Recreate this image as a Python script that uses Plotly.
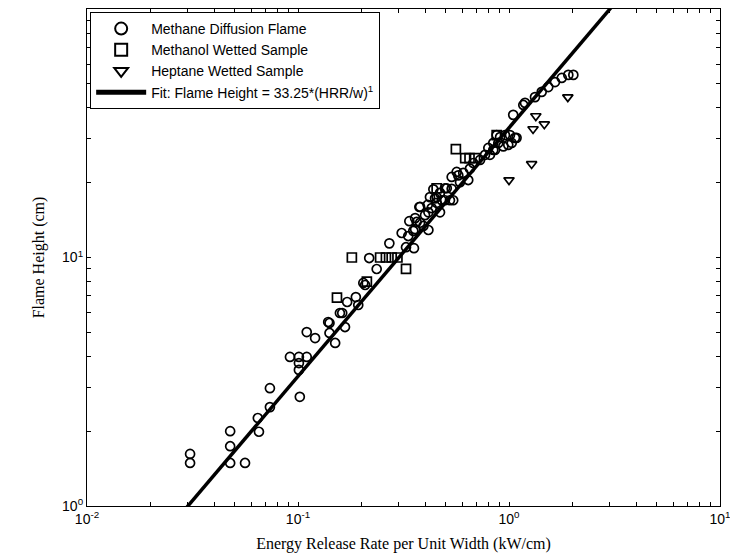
import plotly.graph_objects as go

# Methane Diffusion Flame
methane_x = [0.0308, 0.0308, 0.0477, 0.0477, 0.0477, 0.0561, 0.0645, 0.0653, 0.0736, 0.0736,
             0.102, 0.0916, 0.101, 0.110, 0.101, 0.101, 0.110, 0.1205, 0.141, 0.141,
             0.150, 0.162, 0.167, 0.171, 0.158, 0.188, 0.193, 0.208, 0.204, 0.2175,
             0.236, 0.271, 0.310, 0.325, 0.3545, 0.333, 0.352, 0.337, 0.359, 0.365,
             0.376, 0.400, 0.415, 0.379, 0.393, 0.359, 0.412, 0.422, 0.454, 0.471,
             0.497, 0.544, 0.471, 0.430, 0.415, 0.379, 0.507, 0.535, 0.565, 0.607,
             0.586, 0.641, 0.677, 0.729, 0.770, 0.8125, 0.842, 0.798, 0.858, 0.874,
             0.907, 0.957, 1.011, 1.067, 0.992, 0.940, 0.890, 0.842, 1.086, 1.030,
             1.047, 1.169, 1.191, 1.328, 1.429, 1.535, 1.652, 1.778, 1.910, 2.018,
             0.139, 0.438, 0.454, 0.525, 0.480, 0.446, 0.535, 0.497, 0.575, 0.653]
methane_y = [1.62, 1.49, 2.00, 1.74, 1.49, 1.49, 2.26, 1.99, 2.98, 2.50,
             2.75, 3.98, 3.98, 3.98, 3.76, 3.53, 5.01, 4.74, 5.45, 4.97,
             4.53, 5.98, 5.25, 6.62, 5.98, 6.93, 6.44, 7.75, 7.9, 9.95,
             8.99, 11.4, 12.55, 11.0, 10.9, 12.2, 12.8, 14.0, 14.4, 13.9,
             15.97, 14.8, 12.9, 13.8, 13.4, 13.0, 16.3, 17.5, 17.5, 18.2,
             17.0, 17.0, 15.2, 15.8, 15.2, 16.0, 19.0, 21.1, 22.1, 21.9,
             20.1, 20.5, 24.0, 24.7, 25.9, 25.9, 27.1, 27.6, 27.1, 31.1,
             30.5, 31.1, 31.1, 30.3, 28.4, 28.0, 28.9, 28.9, 30.3, 28.9,
             37.5, 41.1, 41.9, 44.2, 46.4, 48.5, 50.8, 52.8, 54.3, 54.3,
             5.5, 18.8, 16.6, 17.0, 17.0, 17.3, 18.9, 19.0, 21.4, 22.8]

# Methanol Wetted Sample
methanol_x = [0.180, 0.245, 0.261, 0.278, 0.296, 0.325, 0.153, 0.212, 0.454, 0.560,
              0.620, 0.650, 0.690, 0.874]
methanol_y = [10.0, 10.0, 10.0, 10.0, 10.0, 9.0, 6.9, 8.0, 19.0, 27.3,
              25.1, 25.1, 25.1, 31.1]

# Heptane Wetted Sample
heptane_x = [1.00, 1.28, 1.30, 1.34, 1.47, 1.90]
heptane_y = [20.5, 23.8, 32.9, 37.1, 34.4, 44.2]

# Fit: Flame Height = 33.25*(HRR/w)^1
fit_coef = 33.25
fit_exp = 1
fit_x = [0.01, 10.0]
fit_y = [fit_coef * v ** fit_exp for v in fit_x]

# Tick positions (decades labelled, 2..9 unlabelled)
x_decades = [0.01, 0.1, 1, 10]
x_decade_labels = ["10<sup>-2</sup>", "10<sup>-1</sup>", "10<sup>0</sup>", "10<sup>1</sup>"]
y_decades = [1, 10, 100]
y_decade_labels = ["10<sup>0</sup>", "10<sup>1</sup>", "10<sup>2</sup>"]
mults = [1, 2, 3, 4, 5, 6, 7, 8, 9]


def ticks_for(decades, labels):
    vals, texts = [], []
    for d, lab in zip(decades, labels):
        for m in mults:
            vals.append(d * m)
            texts.append(lab if m == 1 else "")
    return vals, texts


xtv, xtt = ticks_for(x_decades, x_decade_labels)
ytv, ytt = ticks_for(y_decades, y_decade_labels)

fig = go.Figure()
mk = dict(color="black", size=9, line=dict(color="black", width=1.7))
fig.add_trace(go.Scatter(x=methane_x, y=methane_y, mode="markers", name="Methane Diffusion Flame",
                         marker=dict(symbol="circle-open", **mk)))
fig.add_trace(go.Scatter(x=methanol_x, y=methanol_y, mode="markers", name="Methanol Wetted Sample",
                         marker=dict(symbol="square-open", **mk)))
fig.add_trace(go.Scatter(x=heptane_x, y=heptane_y, mode="markers", name="Heptane Wetted Sample",
                         marker=dict(symbol="triangle-down-open", **mk)))
fig.add_trace(go.Scatter(x=fit_x, y=fit_y, mode="lines",
                         name="Fit: Flame Height = 33.25*(HRR/w)<sup>1</sup>",
                         line=dict(color="black", width=3.5)))

axis_common = dict(
    type="log", showgrid=False, zeroline=False, showline=True, linecolor="black", linewidth=1.2,
    mirror="ticks", ticks="inside", ticklen=4, tickcolor="black", automargin=False,
    tickfont=dict(family="Liberation Sans, Arial", size=14, color="black"),
)
fig.update_xaxes(range=[-2, 1], tickmode="array", tickvals=xtv, ticktext=xtt,
                 title=dict(text="Energy Release Rate per Unit Width (kW/cm)",
                            font=dict(family="Liberation Serif, Times New Roman", size=16, color="black"),
                            standoff=11),
                 **axis_common)
fig.update_yaxes(range=[0, 2], tickmode="array", tickvals=ytv, ticktext=ytt,
                 title=dict(text="Flame Height (cm)",
                            font=dict(family="Liberation Serif, Times New Roman", size=16, color="black"),
                            standoff=13),
                 **axis_common)

fig.update_layout(
    width=730, height=550,
    margin=dict(l=79, r=18, t=1, b=52),
    paper_bgcolor="white", plot_bgcolor="white",
    font=dict(family="Liberation Sans, Arial", size=13, color="black"),
    legend=dict(x=0.005, y=0.994, xanchor="left", yanchor="top",
                bgcolor="white", bordercolor="black", borderwidth=1,
                font=dict(family="Liberation Sans, Arial", size=14, color="black"),
                tracegroupgap=0, itemsizing="constant", itemwidth=50),
    showlegend=True,
)

fig.write_html("out.html")
